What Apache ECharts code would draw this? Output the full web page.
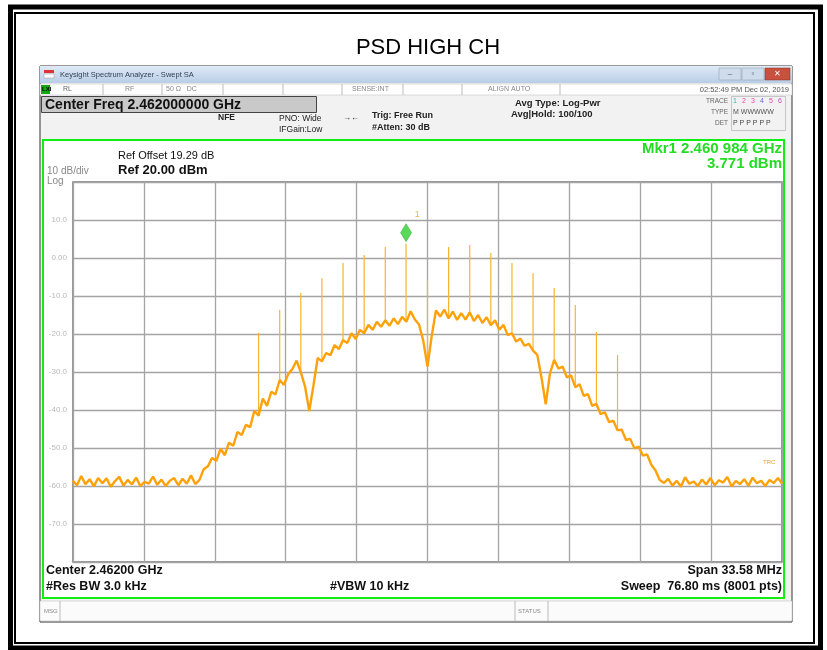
<!DOCTYPE html>
<html>
<head>
<meta charset="utf-8">
<script src="https://cdn.jsdelivr.net/npm/echarts@6/dist/echarts.min.js"></script>
<style>
html, body { margin: 0; padding: 0; background: #fff; }
#chart1 { width: 827px; height: 650px; }
</style>
</head>
<body>
<div id="chart1"></div>
<script>
// 频谱仪读数 (MHz / dBm)
var centerFreq = 2462.0;
var spanMHz = 33.58;
var startFreq = 2445.2;
var freqStep = 0.2;

// 轨迹 (每 0.2 MHz 一个点，从图上读出)
var traceLevel = [
  -58.6, -59.8, -57.4, -59.5, -58.2, -60.1, -57.9, -59.3, -58.0, -60.2,
  -58.7, -57.6, -59.9, -58.4, -59.6, -57.8, -60.0, -58.9, -59.4, -57.5,
  -59.7, -58.3, -60.0, -58.6, -57.9, -59.8, -58.1, -59.4, -57.2, -59.5,
  -58.4, -55.6, -54.8, -52.6, -53.4, -50.2, -51.9, -48.6, -49.4, -45.8,
  -46.6, -43.9, -44.5, -40.2, -41.5, -37.0, -38.9, -35.2, -35.9, -32.1,
  -33.4, -30.6, -29.2, -27.0, -30.1, -33.8, -40.3, -33.5, -26.3, -27.2,
  -25.0, -25.6, -22.9, -24.0, -21.6, -22.4, -19.8, -21.3, -18.9, -19.8,
  -17.6, -18.9, -16.8, -18.1, -16.4, -17.8, -15.9, -17.4, -15.5, -16.8,
  -14.0, -16.2, -17.5, -21.8, -28.6, -20.5, -13.8, -15.4, -13.6, -15.9,
  -14.1, -16.3, -14.5, -16.2, -14.3, -16.6, -15.0, -17.1, -15.6, -17.7,
  -16.4, -18.9, -17.6, -20.3, -19.8, -22.0, -21.2, -23.1, -22.6, -24.4,
  -25.5, -31.5, -38.5, -30.4, -26.8, -29.1, -28.6, -31.4, -30.9, -34.0,
  -33.2, -36.3, -35.8, -38.9, -38.4, -41.1, -40.6, -43.2, -42.8, -45.3,
  -45.2, -47.9, -47.6, -50.1, -49.6, -52.0, -51.7, -54.4, -55.9, -58.4,
  -59.2, -58.1, -59.9, -58.6, -60.2, -57.7, -59.4, -58.8, -60.0, -58.3,
  -59.6, -57.9, -59.8, -58.5, -59.1, -57.6, -60.1, -58.7, -59.5, -58.2,
  -59.9, -57.8, -59.3, -58.6, -60.0, -58.4, -59.2, -57.9, -59.4
];

// 杂散谱线
var spurFreq = [2454, 2455, 2456, 2457, 2458, 2459, 2460, 2460.984, 2462,
                2463, 2464, 2465, 2466, 2467, 2468, 2469, 2470, 2471];
var spurLevel = [-19.7, -13.7, -9.2, -5.3, -1.3, 0.8, 2.9, 3.771, -5.8,
                 2.9, 3.4, 1.3, -1.3, -4.0, -7.9, -12.4, -19.5, -25.5];

var markerFreq = 2460.984;
var markerLevel = 3.771;

var yTickValues = [-80, -70, -60, -50, -40, -30, -20, -10, 0, 10, 20];

var traceData = traceLevel.map(function (v, i) {
    return [startFreq + i * freqStep - centerFreq, v];
});
var spurData = [];
spurFreq.forEach(function (f, i) {
    var base = traceLevel[Math.round((f - startFreq) / freqStep)];
    spurData.push([f - centerFreq, base]);
    spurData.push([f - centerFreq, spurLevel[i]]);
    spurData.push([f - centerFreq, '-']);
});

var half = spanMHz / 2;
var div = spanMHz / 10;

function txt(x, y, s, size, opt) {
    opt = opt || {};
    return {
        type: 'text', x: x, y: y, z: 20,
        style: {
            text: s,
            fontSize: size,
            fontFamily: 'Liberation Sans, Arial, sans-serif',
            fontWeight: opt.bold ? 'bold' : 'normal',
            fill: opt.color || '#111',
            align: opt.align || 'left',
            verticalAlign: 'middle'
        }
    };
}
function box(x, y, w, h, fill, stroke, lw, z) {
    return {
        type: 'rect', z: z === undefined ? -5 : z,
        shape: { x: x, y: y, width: w, height: h },
        style: { fill: fill || 'none', stroke: stroke || null, lineWidth: lw || 1 }
    };
}
function vline(x, y1, y2, c) {
    return { type: 'line', z: -4, shape: { x1: x, y1: y1, x2: x, y2: y2 }, style: { stroke: c || '#bbb', lineWidth: 1 } };
}

var graphics = [
    // 外框
    box(10.5, 7, 810, 641, 'none', '#000', 5, 30),
    box(15, 13, 799, 630, 'none', '#000', 2, 30),
    txt(428, 48, 'PSD HIGH CH', 22, { align: 'center', color: '#000' }),
    // 截图底色
    box(40, 66, 752, 556, '#f2f2f2', '#333', 1, -10),
    box(40, 66, 752, 17, {
        type: 'linear', x: 0, y: 0, x2: 0, y2: 1,
        colorStops: [{ offset: 0, color: '#dfeaf6' }, { offset: 1, color: '#b8cde6' }]
    }, null, 1, -6),
    box(44, 70, 10, 3, '#d33', null, 1, -4),
    box(44, 74, 10, 4, '#fff', '#999', 0.5, -4),
    txt(60, 75, 'Keysight Spectrum Analyzer - Swept SA', 7.5, { color: '#345' }),
    box(719, 68, 22, 12, '#cfdcec', '#8899aa', 0.5, -4),
    box(742, 68, 22, 12, '#cfdcec', '#8899aa', 0.5, -4),
    box(765, 68, 25, 12, '#c8503e', '#8a2e22', 0.5, -4),
    txt(730, 74, '–', 8, { color: '#456', align: 'center' }),
    txt(753, 74, '▫', 8, { color: '#456', align: 'center' }),
    txt(777, 74, '✕', 8, { color: '#fff', align: 'center' }),
    // 状态栏
    box(40, 84, 752, 11, '#fff', '#bbb', 0.5, -6),
    box(41, 85, 9, 9, '#1a1', null, 1, -4),
    txt(42, 89.5, 'LXI', 6, { color: '#000', bold: true }),
    txt(63, 89.5, 'RL', 7, { color: '#666' }),
    txt(125, 89.5, 'RF', 7, { color: '#888' }),
    txt(166, 89.5, '50 Ω   DC', 7, { color: '#888' }),
    txt(352, 89.5, 'SENSE:INT', 7, { color: '#888' }),
    txt(488, 89.5, 'ALIGN AUTO', 7, { color: '#888' }),
    txt(789, 89.5, '02:52:49 PM Dec 02, 2019', 7.5, { color: '#555', align: 'right' }),
    vline(103, 84, 95), vline(162, 84, 95), vline(223, 84, 95), vline(283, 84, 95),
    vline(342, 84, 95), vline(403, 84, 95), vline(462, 84, 95), vline(560, 84, 95),
    // Center Freq
    box(41.5, 96.5, 275, 16, '#c9c9c9', '#444', 1, -4),
    txt(45, 105, 'Center Freq 2.462000000 GHz', 14, { bold: true, color: '#111' }),
    txt(218, 118, 'NFE', 8.5, { bold: true, color: '#222' }),
    txt(279, 119, 'PNO: Wide', 8.5, { color: '#222' }),
    txt(279, 130, 'IFGain:Low', 8.5, { color: '#222' }),
    txt(343, 118, '→←', 8, { color: '#222' }),
    txt(372, 116, 'Trig: Free Run', 9, { bold: true, color: '#222' }),
    txt(372, 128, '#Atten: 30 dB', 9, { bold: true, color: '#222' }),
    txt(515, 103, 'Avg Type: Log-Pwr', 9.5, { bold: true, color: '#222' }),
    txt(511, 114, 'Avg|Hold: 100/100', 9.5, { bold: true, color: '#222' }),
    box(731.5, 96.5, 54, 34, 'none', '#999', 0.5, -4),
    txt(728, 101, 'TRACE', 6.5, { color: '#666', align: 'right' }),
    txt(733, 101, '1', 7, { color: '#2bb' }), txt(742, 101, '2', 7, { color: '#e4a' }),
    txt(751, 101, '3', 7, { color: '#e4a' }), txt(760, 101, '4', 7, { color: '#66d' }),
    txt(769, 101, '5', 7, { color: '#e4a' }), txt(778, 101, '6', 7, { color: '#c4c' }),
    txt(728, 112, 'TYPE', 6.5, { color: '#666', align: 'right' }),
    txt(733, 112, 'M WWWWW', 7, { color: '#555' }),
    txt(728, 123, 'DET', 6.5, { color: '#666', align: 'right' }),
    txt(733, 123, 'P P P P P P', 7, { color: '#444' }),
    // 绿色测量框
    box(43, 140, 741, 458, '#fff', '#11ee11', 2, -3),
    txt(782, 149, 'Mkr1 2.460 984 GHz', 15, { bold: true, color: '#22dd22', align: 'right' }),
    txt(782, 164, '3.771 dBm', 15, { bold: true, color: '#22dd22', align: 'right' }),
    txt(118, 156, 'Ref Offset 19.29 dB', 11, { color: '#111' }),
    txt(118, 170, 'Ref 20.00 dBm', 13, { bold: true, color: '#111' }),
    txt(47, 171, '10 dB/div', 10, { color: '#888' }),
    txt(47, 181, 'Log', 10, { color: '#888' }),
    txt(763, 462, 'TRC', 6, { color: '#f0a030' }),
    txt(46, 571, 'Center 2.46200 GHz', 12.5, { bold: true, color: '#111' }),
    txt(46, 587, '#Res BW 3.0 kHz', 12.5, { bold: true, color: '#111' }),
    txt(330, 587, '#VBW 10 kHz', 12.5, { bold: true, color: '#111' }),
    txt(782, 571, 'Span 33.58 MHz', 12.5, { bold: true, color: '#111', align: 'right' }),
    txt(782, 587, 'Sweep  76.80 ms (8001 pts)', 12.5, { bold: true, color: '#111', align: 'right' }),
    // MSG 栏
    box(40, 601, 752, 20, '#fbfbfb', '#bbb', 0.5, -4),
    vline(60, 601, 621), vline(515, 601, 621), vline(548, 601, 621),
    txt(44, 611, 'MSG', 6, { color: '#888' }),
    txt(518, 611, 'STATUS', 6, { color: '#888' })
];

var chart = echarts.init(document.getElementById('chart1'));
chart.setOption({
    animation: false,
    backgroundColor: '#fff',
    graphic: graphics,
    grid: {
        left: 73, right: 45, top: 182, bottom: 88,
        show: true, borderColor: '#777', borderWidth: 1.5, backgroundColor: 'transparent'
    },
    xAxis: {
        type: 'value',
        min: -half, max: half, interval: div,
        axisLine: { show: false },
        axisTick: { show: false },
        axisLabel: { show: false },
        splitLine: { show: true, lineStyle: { color: '#a4a4a4', width: 1.3 } }
    },
    yAxis: {
        type: 'value',
        min: yTickValues[0], max: yTickValues[yTickValues.length - 1], interval: 10,
        axisLine: { show: false },
        axisTick: { show: false },
        axisLabel: {
            color: '#b8b8b8', fontSize: 8, margin: 6,
            fontFamily: 'Liberation Sans, Arial, sans-serif',
            formatter: function (v) {
                if (v === 20 || v === -80) return '';
                if (v === 0) return '0.00';
                return v.toFixed(1);
            }
        },
        splitLine: { show: true, lineStyle: { color: '#a4a4a4', width: 1.3 } }
    },
    series: [
        {
            name: 'spurs',
            type: 'line',
            data: spurData,
            symbol: 'none',
            connectNulls: false,
            lineStyle: { color: '#f8b52a', width: 1.2 },
            z: 3
        },
        {
            name: 'trace',
            type: 'line',
            data: traceData,
            symbol: 'none',
            lineStyle: { color: '#ffa10a', width: 2.4 },
            z: 4
        },
        {
            name: 'marker',
            type: 'scatter',
            data: [[markerFreq - centerFreq, markerLevel]],
            symbol: 'diamond',
            symbolSize: [11, 18],
            symbolOffset: [0, -11],
            itemStyle: { color: '#2fd02f', borderColor: '#1a9a1a', borderWidth: 0.5 },
            label: {
                show: true, formatter: '1', position: 'right',
                offset: [-2, -18], color: '#f0a020', fontSize: 9
            },
            z: 6
        }
    ]
});
</script>
</body>
</html>
